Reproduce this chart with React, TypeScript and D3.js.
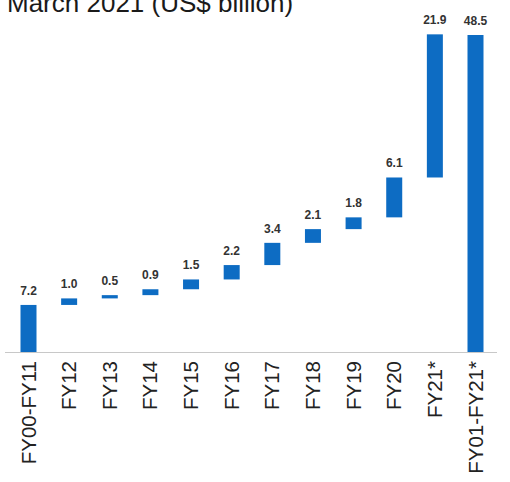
import * as d3 from "d3";

const categories = [
  "FY00-FY11",
  "FY12",
  "FY13",
  "FY14",
  "FY15",
  "FY16",
  "FY17",
  "FY18",
  "FY19",
  "FY20",
  "FY21*",
  "FY01-FY21*",
];
const values = [7.2, 1.0, 0.5, 0.9, 1.5, 2.2, 3.4, 2.1, 1.8, 6.1, 21.9, 48.5];
const valueLabels = ["7.2", "1.0", "0.5", "0.9", "1.5", "2.2", "3.4", "2.1", "1.8", "6.1", "21.9", "48.5"];
// first and last bars start from the baseline
const isTotal = [true, false, false, false, false, false, false, false, false, false, false, true];

const width = 510;
const height = 482;
const baseY = 352;
const barWidth = 16;
const blue = "#0d6cc3";

export default function App() {
  const x = d3.scalePoint<string>().domain(categories).range([28.5, 475.5]);
  const y = d3.scaleLinear().domain([0, 48.5]).range([baseY, 35]);

  let running = 0;
  const bars = values.map((v, i) => {
    let y0: number;
    let y1: number;
    if (isTotal[i]) {
      y0 = 0;
      y1 = v;
      running = i === 0 ? v : running;
    } else {
      y0 = running;
      y1 = running + v;
      running = y1;
    }
    return { cat: categories[i], label: valueLabels[i], y0, y1 };
  });

  return (
    <svg
      width={width}
      height={height}
      viewBox={`0 0 ${width} ${height}`}
      style={{ position: "absolute", left: 0, top: 0, background: "#fff" }}
      fontFamily="'Liberation Sans', Arial, sans-serif"
    >
      <text x={7} y={12} fontSize={26} fill="#1a1a1a">
        March 2021 (US$ billion)
      </text>

      <line x1={5} x2={497} y1={baseY + 0.5} y2={baseY + 0.5} stroke="#c8c8c8" strokeWidth={1.2} />

      {bars.map((b) => {
        const cx = x(b.cat) ?? 0;
        const top = y(b.y1);
        const bottom = y(b.y0);
        return (
          <g key={b.cat}>
            <rect x={cx - barWidth / 2} y={top} width={barWidth} height={Math.max(1, bottom - top)} fill={blue} />
            <text
              x={cx}
              y={top - 10}
              textAnchor="middle"
              fontSize={12}
              fontWeight="bold"
              fill="#333"
            >
              {b.label}
            </text>
            <text
              transform={`translate(${cx + 7},${baseY + 9}) rotate(-90)`}
              textAnchor="end"
              fontSize={20.5}
              fill="#222"
            >
              {b.cat}
            </text>
          </g>
        );
      })}
    </svg>
  );
}
